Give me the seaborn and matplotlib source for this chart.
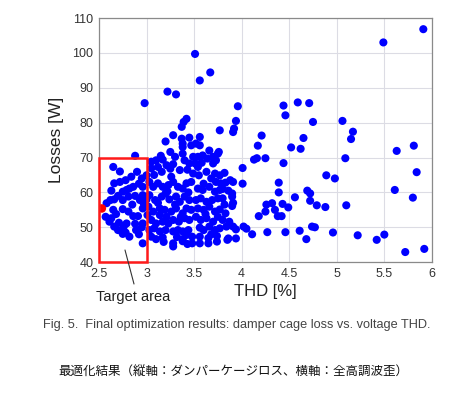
import numpy as np
import pandas as pd
import matplotlib
matplotlib.use("Agg")
import matplotlib.pyplot as plt
import seaborn as sns
from matplotlib.patches import Rectangle

# valores (THD [%], perdas [W])
thd_box = [2.65, 2.88, 2.63, 2.66, 2.72, 2.84, 2.90, 2.95, 2.96, 2.75, 2.79, 2.82, 2.86,
           2.66, 2.75, 2.81, 2.88, 2.93, 2.96, 2.58, 2.65, 2.75, 2.81, 2.86, 2.91, 2.96,
           2.97, 2.57, 2.61, 2.66, 2.71, 2.76, 2.79, 2.70, 2.75, 2.82, 2.89, 2.92, 2.96,
           2.96, 2.63, 2.70, 2.78, 2.85, 2.92, 2.68, 2.88, 2.78, 2.95, 2.62, 2.72]
loss_box = [67.3, 70.5, 60.5, 62.6, 63.0, 64.5, 65.9, 64.0, 61.6, 60.2, 60.7, 61.1, 61.6,
            58.0, 57.8, 58.8, 59.0, 57.8, 59.2, 56.9, 55.0, 55.2, 54.5, 53.2, 53.2, 55.4,
            56.9, 53.0, 51.6, 50.2, 51.3, 50.2, 51.1, 49.2, 48.1, 47.3, 49.2, 48.0, 51.1,
            45.4, 52.6, 59.0, 63.5, 56.5, 62.5, 53.8, 51.0, 48.5, 50.0, 57.8, 66.0]

thd_mid = [3.05, 3.10, 3.17, 3.20, 3.28, 3.00, 3.03, 3.05, 3.12, 3.16, 3.21, 3.25, 3.30,
           3.28, 3.35, 3.38, 3.40, 3.37, 3.38, 3.38, 3.37, 3.39, 3.42, 3.45, 3.47, 3.49,
           3.45, 3.07, 3.12, 3.17, 3.23, 3.28, 3.26, 3.33, 3.38, 3.42, 3.47, 3.03, 3.09,
           3.16, 3.20, 3.24, 3.31, 3.35, 3.40, 3.45, 3.02, 3.07, 3.14, 3.19, 3.26, 3.31,
           3.38, 3.42, 3.47, 3.05, 3.10, 3.17, 3.23, 3.28, 3.34, 3.40, 3.45, 3.03, 3.08,
           3.14, 3.20, 3.28, 3.33, 3.38, 3.44, 3.05, 3.10, 3.17, 3.28, 3.28, 3.38, 3.38,
           3.48, 3.48, 3.42, 3.21, 3.14, 3.00, 3.01, 3.08, 3.15, 3.22, 3.30, 3.36, 3.12,
           3.44, 3.18, 3.32, 3.43, 3.25, 3.43]
loss_mid = [68.8, 69.2, 69.4, 74.6, 76.4, 64.9, 63.0, 66.9, 67.3, 65.9, 67.8, 71.6, 70.2,
            68.1, 66.4, 71.1, 69.2, 75.4, 74.0, 73.0, 78.8, 80.2, 81.1, 75.7, 73.5, 70.2,
            68.3, 61.6, 62.6, 61.6, 62.1, 63.0, 64.5, 61.6, 61.1, 62.6, 63.0, 59.2, 57.8,
            58.8, 59.7, 58.0, 58.8, 57.3, 58.8, 57.8, 55.9, 54.5, 55.4, 55.0, 54.5, 55.4,
            54.0, 55.4, 55.0, 52.1, 51.1, 51.6, 51.1, 52.1, 51.6, 52.6, 52.1, 49.2, 49.7,
            48.8, 49.2, 48.8, 49.2, 48.8, 49.2, 47.3, 46.6, 47.1, 45.4, 44.5, 46.6, 46.0,
            45.4, 47.3, 47.8, 53.0, 53.5, 58.0, 53.5, 65.0, 70.5, 60.3, 56.5, 53.0, 57.0,
            60.0, 45.8, 47.2, 45.2, 66.8, 66.5]

thd_right = [3.52, 3.56, 3.56, 3.54, 3.59, 3.64, 3.70, 3.75, 3.76, 3.73, 3.70, 3.51, 3.54,
             3.49, 3.55, 3.63, 3.72, 3.77, 3.82, 3.88, 3.91, 3.73, 3.78, 3.83, 3.54, 3.59,
             3.66, 3.72, 3.77, 3.90, 3.90, 3.52, 3.57, 3.63, 3.69, 3.75, 3.80, 3.90, 3.54,
             3.60, 3.66, 3.72, 3.77, 3.83, 3.52, 3.57, 3.63, 3.70, 3.75, 3.80, 3.87, 3.56,
             3.60, 3.66, 3.72, 3.77, 3.84, 3.91, 3.94, 3.56, 3.65, 3.65, 3.56, 3.74, 3.74,
             3.85, 3.91, 3.60, 3.68, 3.80, 3.62, 3.68, 3.82, 3.86, 3.58, 3.66]
loss_right = [74.0, 73.5, 75.9, 70.2, 70.6, 69.7, 70.2, 71.1, 71.6, 69.2, 68.3, 68.3, 67.3,
              65.4, 64.9, 65.9, 65.4, 64.9, 65.6, 63.5, 63.0, 63.0, 62.6, 62.8, 61.1, 60.7,
              61.6, 60.2, 60.7, 59.7, 58.8, 57.8, 58.3, 57.3, 57.8, 58.3, 58.3, 56.1, 55.4,
              55.0, 55.9, 54.5, 55.1, 54.0, 53.0, 52.1, 52.6, 51.6, 53.0, 52.1, 51.6, 49.9,
              49.2, 50.2, 49.2, 49.7, 50.2, 50.2, 49.4, 47.3, 46.9, 45.4, 45.4, 45.9, 47.5,
              46.4, 57.0, 62.5, 64.0, 61.0, 53.8, 48.0, 56.5, 60.5, 68.5, 72.0]

thd_sparse = [5.91, 5.49, 3.51, 3.67, 3.56, 3.22, 3.31, 2.98, 3.96, 4.44, 4.59, 4.71, 4.46,
              4.75, 5.06, 5.17, 5.15, 4.65, 4.52, 4.62, 4.44, 4.21, 4.17, 4.16, 4.13, 4.25,
              4.01, 4.01, 3.94, 3.92, 3.91, 3.77, 5.63, 5.81, 5.84, 5.61, 5.80, 5.09, 4.89,
              4.98, 5.10, 4.88, 4.96, 5.22, 5.42, 5.50, 5.72, 5.92, 4.69, 4.72, 4.72, 4.79,
              4.74, 4.77, 4.61, 4.68, 4.46, 4.56, 4.49, 4.43, 4.39, 4.39, 4.35, 4.38, 4.42,
              4.26, 4.32, 4.25, 4.18, 4.27, 4.11, 4.05, 4.02, 3.94, 3.86]
loss_sparse = [106.8, 103.0, 99.7, 94.4, 92.1, 88.9, 88.1, 85.6, 84.7, 84.9, 85.8, 85.6, 82.1,
               80.2, 80.5, 77.4, 75.3, 75.6, 72.9, 72.5, 68.4, 76.3, 73.4, 69.8, 69.4, 69.8,
               67.0, 62.5, 80.5, 78.3, 77.3, 77.8, 71.9, 73.4, 65.8, 60.7, 58.5, 69.8, 64.9,
               64.0, 56.3, 55.8, 48.5, 47.7, 46.4, 47.9, 42.9, 43.8, 60.5, 59.7, 57.6, 56.3,
               50.2, 50.0, 49.0, 46.6, 48.6, 58.6, 55.7, 56.7, 62.8, 60.0, 55.0, 53.2, 53.2,
               56.5, 56.9, 54.5, 53.2, 48.6, 48.0, 49.6, 50.2, 46.8, 46.8]

best_thd = [2.53]
best_loss = [55.4]

x_ticks = [2.5, 3, 3.5, 4, 4.5, 5, 5.5, 6]
x_labels = ["2.5", "3", "3.5", "4", "4.5", "5", "5.5", "6"]
y_ticks = [40, 50, 60, 70, 80, 90, 100, 110]

df = pd.DataFrame({
    "thd": thd_box + thd_mid + thd_right + thd_sparse,
    "loss": loss_box + loss_mid + loss_right + loss_sparse,
})

sns.set_style("white")
plt.rcParams["font.family"] = ["Liberation Sans", "DejaVu Sans"]

fig = plt.figure(figsize=(4.72, 3.96), dpi=100)
ax = fig.add_axes([0.2097, 0.338, 0.7053, 0.6165])

sns.scatterplot(data=df, x="thd", y="loss", ax=ax, color="#0000ff", s=34,
                edgecolor="none", zorder=3)
sns.scatterplot(x=best_thd, y=best_loss, ax=ax, color="#ff0000", s=38,
                edgecolor="none", zorder=4)

ax.set_xlim(2.5, 6)
ax.set_ylim(40, 110)
ax.set_xticks(x_ticks)
ax.set_xticklabels(x_labels)
ax.set_yticks(y_ticks)
ax.grid(True, color="#dcdce4", linewidth=0.8, zorder=0)
ax.set_axisbelow(True)
for sp in ax.spines.values():
    sp.set_color("#8a8a8a")
    sp.set_linewidth(0.9)
ax.tick_params(direction="in", length=3, color="#8a8a8a", labelsize=9,
               labelcolor="#333333", pad=4)

ax.set_xlabel("THD [%]", fontsize=12, color="#222222", labelpad=3)
ax.set_ylabel("Losses [W]", fontsize=12.5, color="#222222", labelpad=6)

# area alvo
ax.add_patch(Rectangle((2.5, 40), 0.5, 30, fill=False, edgecolor="#ff1a1a",
                       linewidth=1.8, zorder=5, clip_on=False))

fig.add_artist(plt.Line2D([125 / 472, 134 / 472], [1 - 250 / 396, 1 - 284 / 396],
                          color="#333333", linewidth=0.8))
fig.text(133 / 472, 1 - 297 / 396, "Target area", ha="center", va="center",
         fontsize=10.5, color="#222222")

fig.text(237 / 472, 1 - 325 / 396,
         "Fig. 5.  Final optimization results: damper cage loss vs. voltage THD.",
         ha="center", va="center", fontsize=9.2, color="#444444")
fig.text(233 / 472, 1 - 372 / 396,
         "最適化結果（縦軸：ダンパーケージロス、横軸：全高調波歪）",
         ha="center", va="center", fontsize=9, color="#111111",
         family=["Noto Sans CJK JP", "DejaVu Sans"])

fig.savefig("out.png", dpi=100)
